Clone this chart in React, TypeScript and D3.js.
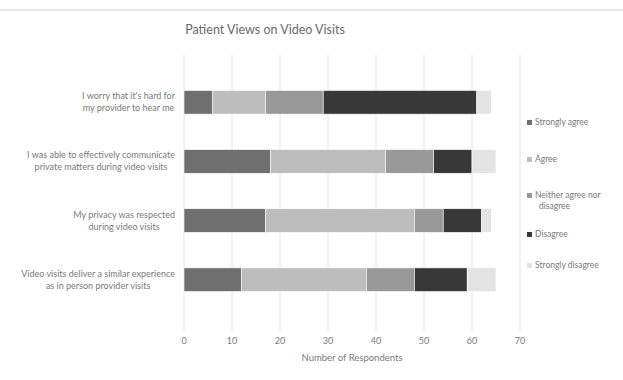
import React, { useEffect, useRef } from 'react';
import * as d3 from 'd3';

const questions = [
  "I worry that it's hard for|my provider to hear me",
  'I was able to effectively communicate|private matters during video visits',
  'My privacy was respected|during video visits',
  'Video visits deliver a similar experience|as in person provider visits',
];
const responses = ['Strongly agree', 'Agree', 'Neither agree nor disagree', 'Disagree', 'Strongly disagree'];
const stronglyAgree = [6, 18, 17, 12];
const agree = [11, 24, 31, 26];
const neither = [12, 10, 6, 10];
const disagree = [32, 8, 8, 11];
const stronglyDisagree = [3, 5, 2, 6];
const xTicks = [0, 10, 20, 30, 40, 50, 60, 70];

const App = () => {
  const svgRef = useRef(null);

  useEffect(() => {
    const width = 623, height = 380;
    const margin = { top: 55, right: 103, bottom: 53, left: 184 };
    const svg = d3.select(svgRef.current);
    svg.selectAll('*').remove();

    const font = 'Lato, "Open Sans", sans-serif';
    const textColor = '#7a7a7a';

    // top rule line from the page
    svg.append('line')
      .attr('x1', 0).attr('x2', width).attr('y1', 10).attr('y2', 10)
      .attr('stroke', '#cfcfcf').attr('stroke-width', 1);

    svg.append('text')
      .attr('x', 265).attr('y', 34)
      .attr('text-anchor', 'middle')
      .style('font-family', font).style('font-size', '12.5px').style('fill', '#6a6a6a')
      .text('Patient Views on Video Visits');

    const x = d3.scaleLinear().domain([0, 70]).range([margin.left, width - margin.right]);
    const y = d3.scaleBand().domain(questions).range([margin.top, height - margin.bottom]).padding(0.6);

    // grid lines
    svg.append('g').selectAll('line')
      .data(xTicks)
      .join('line')
      .attr('x1', d => x(d)).attr('x2', d => x(d))
      .attr('y1', margin.top).attr('y2', height - margin.bottom + 4)
      .attr('stroke', '#e4e4e4').attr('stroke-width', 1);

    // tick labels
    svg.append('g').selectAll('text')
      .data(xTicks)
      .join('text')
      .attr('x', d => x(d)).attr('y', 344)
      .attr('text-anchor', 'middle')
      .style('font-family', font).style('font-size', '9px').style('fill', textColor)
      .text(d => d);

    svg.append('text')
      .attr('x', 352).attr('y', 361)
      .attr('text-anchor', 'middle')
      .style('font-family', font).style('font-size', '9.5px').style('fill', textColor)
      .text('Number of Respondents');

    const rows = questions.map((q, i) => ({
      q,
      values: [stronglyAgree[i], agree[i], neither[i], disagree[i], stronglyDisagree[i]],
    }));
    const stack = d3.stack().keys([0, 1, 2, 3, 4]).value((d, k) => d.values[k]);
    const series = stack(rows);

    const color = d3.scaleOrdinal()
      .domain(responses)
      .range(['#6f6f6f', '#bdbdbd', '#999999', '#383838', '#e3e3e3']);

    svg.append('g')
      .selectAll('g')
      .data(series)
      .join('g')
      .attr('fill', (d, i) => color(responses[i]))
      .selectAll('rect')
      .data(d => d)
      .join('rect')
      .attr('x', d => x(d[0]))
      .attr('y', d => y(d.data.q))
      .attr('width', d => x(d[1]) - x(d[0]))
      .attr('height', y.bandwidth())
      .attr('stroke', '#ffffff').attr('stroke-width', 0.6);

    // category labels: block right-aligned, lines centered in block
    questions.forEach(q => {
      const lines = q.split('|');
      const g = svg.append('g');
      const texts = lines.map((line, j) => g.append('text')
        .attr('y', y(q) + y.bandwidth() / 2 + (j - (lines.length - 1) / 2) * 12 + 3)
        .attr('text-anchor', 'middle')
        .style('font-family', font).style('font-size', '9px').style('fill', textColor)
        .text(line));
      const w = d3.max(texts, t => t.node().getComputedTextLength());
      texts.forEach(t => t.attr('x', 175 - w / 2));
    });

    // legend
    const legendY = [125, 162, 198, 237, 268];
    const legendLabels = [['Strongly agree'], ['Agree'], ['Neither agree nor', 'disagree'], ['Disagree'], ['Strongly disagree']];
    const legend = svg.append('g');
    responses.forEach((r, i) => {
      legend.append('rect')
        .attr('x', 527).attr('y', legendY[i] - 5)
        .attr('width', 5).attr('height', 5)
        .attr('fill', color(r));
      legendLabels[i].forEach((l, j) => {
        legend.append('text')
          .attr('x', 535 + (j > 0 ? 4 : 0)).attr('y', legendY[i] + j * 11)
          .style('font-family', font).style('font-size', '8.5px').style('fill', textColor)
          .text(l);
      });
    });
  }, []);

  return (
    <svg ref={svgRef} width={623} height={380}
      style={{ position: 'absolute', left: 0, top: 0, background: '#fff' }} />
  );
};

export default App;
